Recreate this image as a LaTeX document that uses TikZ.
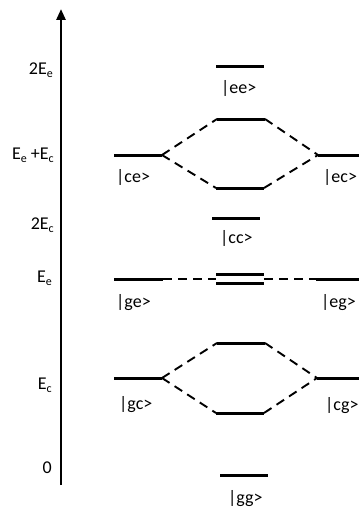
\documentclass[tikz,border=0pt]{standalone}
\usepackage{fontspec}
\setmainfont{Carlito}
\usetikzlibrary{arrows.meta}
\newcommand{\lowsub}[1]{\raisebox{-0.35ex}{\fontsize{12}{13}\selectfont #1}}
\begin{document}
\begin{tikzpicture}[x=1pt,y=-1pt,
  level/.style={line width=3pt},
  link/.style={line width=1.9pt,dash pattern=on 9pt off 6pt},
  txt/.style={font=\fontsize{18}{20}\selectfont,inner sep=0pt},
  ax/.style={txt,anchor=east},
  st/.style={txt,anchor=west}]
\useasboundingbox (0,0) rectangle (359,508);
% axis
\coordinate (a0) at (61,485);
\coordinate (a1) at (61,9);
\draw[line width=2.6pt,-{Triangle[length=11pt,width=9pt]}] (a0) -- (a1);
\node[ax] (l2e) at (53,70) {2E\lowsub{e}};
\node[ax] (lec) at (54,155) {E\lowsub{e} +E\lowsub{c}};
\node[ax] (l2c) at (54,225) {2E\lowsub{c}};
\node[ax] (le) at (52,278) {E\lowsub{e}};
\node[ax] (lc) at (52,385) {E\lowsub{c}};
\node[ax] (l0) at (52,468) {0};
% levels
\coordinate (ceL) at (114,155); \coordinate (ceR) at (162,155);
\coordinate (ecL) at (318,155); \coordinate (ecR) at (359,155);
\coordinate (eeL) at (216,67);  \coordinate (eeR) at (264,67);
\coordinate (uaL) at (217,119); \coordinate (uaR) at (265,119);
\coordinate (ubL) at (216,188); \coordinate (ubR) at (264,188);
\coordinate (ccL) at (212,218); \coordinate (ccR) at (260,218);
\coordinate (geL) at (114,279); \coordinate (geR) at (163,279);
\coordinate (egL) at (316,279); \coordinate (egR) at (359,279);
\coordinate (d1L) at (216,274); \coordinate (d1R) at (264,274);
\coordinate (d2L) at (216,283); \coordinate (d2R) at (264,283);
\coordinate (d0L) at (216,279); \coordinate (d0R) at (264,279);
\coordinate (gcL) at (114,378); \coordinate (gcR) at (162,378);
\coordinate (cgL) at (317,378); \coordinate (cgR) at (359,378);
\coordinate (laL) at (217,343); \coordinate (laR) at (265,343);
\coordinate (lbL) at (216,413); \coordinate (lbR) at (264,413);
\coordinate (ggL) at (220,475); \coordinate (ggR) at (268,475);
\foreach \n in {ce,ec,ee,ua,ub,cc,ge,eg,d1,d2,gc,cg,la,lb,gg}
  \draw[level] (\n L) -- (\n R);
% dashed links
\draw[link] (ceR) -- (uaL);
\draw[link] (ceR) -- (ubL);
\draw[link] (uaR) -- (ecL);
\draw[link] (ubR) -- (ecL);
\draw[link] (geR) -- (d0L);
\draw[link] (d0R) -- (egL);
\draw[link] (gcR) -- (laL);
\draw[link] (gcR) -- (lbL);
\draw[link] (laR) -- (cgL);
\draw[link] (lbR) -- (cgL);
% state labels
\node[st] (tee) at (221,88) {|ee>};
\node[st] (tce) at (116,177) {|ce>};
\node[st] (tec) at (323,177) {|ec>};
\node[st] (tcc) at (220,238) {|cc>};
\node[st] (tge) at (116,303) {|ge>};
\node[st] (teg) at (321,303) {|eg>};
\node[st] (tgc) at (119,405) {|gc>};
\node[st] (tcg) at (325,406) {|cg>};
\node[st] (tgg) at (228,499) {|gg>};
\end{tikzpicture}
\end{document}
